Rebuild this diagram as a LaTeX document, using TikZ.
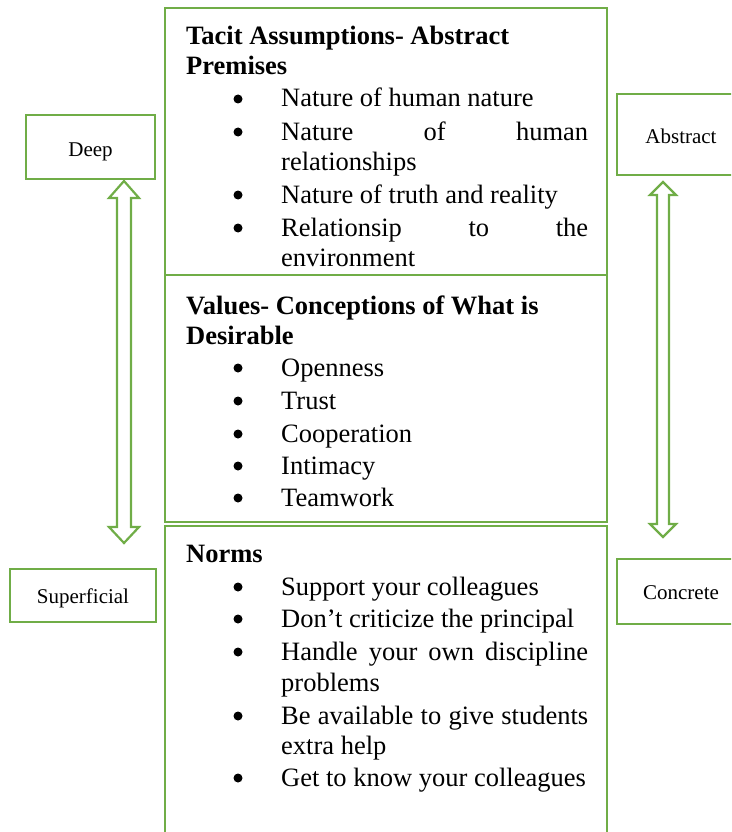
\documentclass[tikz,border=0pt]{standalone}
\usepackage{fontspec}
\setmainfont{Liberation Serif}
\definecolor{grn}{RGB}{112,173,71}
\newcommand\bulline[3]{%
  \node[bul] (#2b) at (238,#1-8) {};
  \node[body] (#2) at (281,#1) {#3};}
\newcommand\jline[3]{%
  \node[bul] (#2b) at (238,#1-8) {};
  \node[body] (#2) at (281,#1) {\makebox[307pt][s]{#3}};}
\newcommand\contline[3]{%
  \node[body] (#2) at (281,#1) {#3};}
\begin{document}
\begin{tikzpicture}[x=1pt,y=-1pt,
  box/.style={draw=grn,line width=2.8pt},
  sidebox/.style={draw=grn,line width=2.8pt,inner sep=0pt,text depth=0pt,font=\fontsize{21}{25}\selectfont},
  body/.style={anchor=base west,inner sep=0pt,font=\fontsize{26.5}{30}\selectfont},
  head/.style={anchor=base west,inner sep=0pt,font=\fontsize{26.5}{30}\selectfont\bfseries},
  bul/.style={circle,fill=black,inner sep=0pt,minimum size=9pt},
  garrow/.style={draw=grn,line width=2.2pt,line join=miter}]
\useasboundingbox (0,0) rectangle (731,832);
\clip (0,0) rectangle (731,832);

% main boxes
\draw[box] (165,8) rectangle (607,522);
\draw[box] (165,275) -- (607,275);
\draw[box] (165,526) rectangle (607,860);

% side boxes
\node[sidebox,minimum width=129pt,minimum height=64pt,text height=18pt] (deep) at (90.5,147) {Deep};
\node[sidebox,minimum width=128pt,minimum height=81pt,text height=17pt] (abstract) at (681,134.5) {Abstract};
\node[sidebox,minimum width=146pt,minimum height=53pt,text height=15pt] (superficial) at (83,595.5) {Superficial};
\node[sidebox,minimum width=128pt,minimum height=65pt,text height=15pt] (concrete) at (681,591.5) {Concrete};

% hollow double arrows
\coordinate (lt) at (124,181);
\coordinate (lb) at (124,543);
\draw[garrow] (124-15,181+17) -- (lt) -- (124+15,181+17) -- (124+7,181+17)
  -- (124+7,543-16) -- (124+15,543-16) -- (lb) -- (124-15,543-16) -- (124-7,543-16)
  -- (124-7,181+17) -- cycle;
\coordinate (rt) at (663,182);
\coordinate (rb) at (663,537);
\draw[garrow] (663-13,182+13) -- (rt) -- (663+13,182+13) -- (663+6,182+13)
  -- (663+6,537-13) -- (663+13,537-13) -- (rb) -- (663-13,537-13) -- (663-6,537-13)
  -- (663-6,182+13) -- cycle;

% section 1
\node[head] (h1a) at (186,45) {Tacit Assumptions- Abstract};
\node[head] (h1b) at (186,75) {Premises};
\bulline{107}{a1}{Nature of human nature}
\jline{140}{a2}{Nature of human}
\contline{170}{a2c}{relationships}
\bulline{203}{a3}{Nature of truth and reality}
\jline{236}{a4}{Relationsip to the}
\contline{266}{a4c}{environment}

% section 2
\node[head] (h2a) at (186,314) {Values- Conceptions of What is};
\node[head] (h2b) at (186,344) {Desirable};
\bulline{376}{v1}{Openness}
\bulline{409}{v2}{Trust}
\bulline{442}{v3}{Cooperation}
\bulline{474}{v4}{Intimacy}
\bulline{506}{v5}{Teamwork}

% section 3
\node[head] (h3) at (186,562) {Norms};
\bulline{595}{n1}{Support your colleagues}
\bulline{627}{n2}{Don’t criticize the principal}
\jline{660}{n3}{Handle your own discipline}
\contline{691}{n3c}{problems}
\jline{724}{n4}{Be available to give students}
\contline{754}{n4c}{extra help}
\bulline{786}{n5}{Get to know your colleagues}
\end{tikzpicture}
\end{document}
